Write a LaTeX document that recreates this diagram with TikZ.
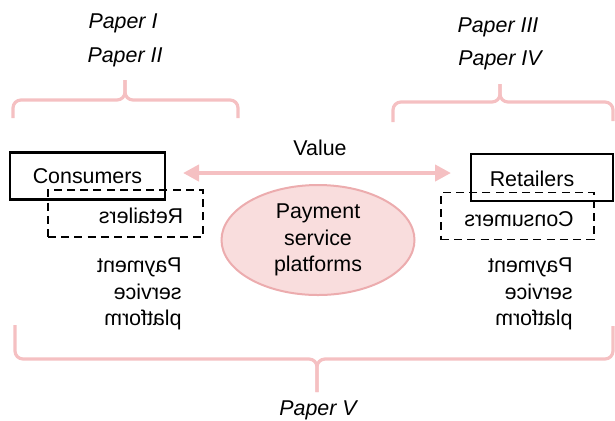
\documentclass[tikz,border=0pt]{standalone}
\usepackage{fontspec}
\setmainfont{Liberation Sans}
\usepackage{graphicx}
\usetikzlibrary{shapes.geometric,arrows.meta}
\definecolor{linkpink}{RGB}{245,192,194}
\definecolor{bubblefill}{RGB}{249,221,221}
\definecolor{bubbleline}{RGB}{236,172,174}
\begin{document}
\begin{tikzpicture}[x=0.5pt,y=-0.5pt,
  every node/.style={font=\fontsize{10.7}{13.2}\selectfont, inner sep=0pt},
  paper/.style={font=\fontsize{10.7}{13.2}\selectfont\itshape},
  actorbox/.style={draw=black, line width=1.2pt, minimum width=#1, minimum height=23.5pt},
  rolebox/.style={draw=black, line width=0.9pt, dash pattern=on 4pt off 2.6pt, minimum width=#1, minimum height=23.5pt},
  bracket/.style={draw=linkpink, line width=1.6pt, rounded corners=4pt},
  valueflow/.style={draw=linkpink, line width=2pt, {Triangle[length=8pt,width=8pt]}-{Triangle[length=8pt,width=8pt]}},
  platform/.style={ellipse, draw=bubbleline, fill=bubblefill, line width=1pt, minimum width=96.5pt, minimum height=55pt}
]
\useasboundingbox (0,0) rectangle (615,420);

% paper labels
\node[paper] (p1) at (123,23) {Paper I};
\node[paper] (p2) at (125,57) {Paper II};
\node[paper] (p3) at (498,27) {Paper III};
\node[paper] (p4) at (500,60) {Paper IV};
\node[paper] (p5) at (318,410) {Paper V};

% braces
\draw[bracket] (13,118) -- (13,100) -- (125,100) -- (125,80);
\draw[bracket] (125,80) -- (125,100) -- (238,100) -- (238,118);
\draw[bracket] (393,122) -- (393,102) -- (500,102) -- (500,84);
\draw[bracket] (500,84) -- (500,102) -- (613,102) -- (613,121);
\draw[bracket] (15,325) -- (15,359) -- (317,359) -- (317,392);
\draw[bracket] (317,392) -- (317,359) -- (613,359) -- (613,326);

% left side: consumers
\node[rolebox=77.5pt] (retdashL) at (125.5,213.5) {};
\node (retmirL) at (141,216) {\reflectbox{Retailers}};
\node[actorbox=77.5pt] (cons) at (87.5,176) {Consumers};
\node[anchor=east] (pspL) at (182,294) {\reflectbox{\begin{tabular}{@{}l@{}}Payment\\service\\platform\end{tabular}}};

% right side: retailers
\node[rolebox=76.5pt] (consdashR) at (517.5,216) {};
\node (consmirR) at (519,219) {\reflectbox{Consumers}};
\node[actorbox=71pt] (ret) at (542,177.5) {};
\node (rettext) at (532,179) {Retailers};
\node[anchor=east] (pspR) at (573,294) {\reflectbox{\begin{tabular}{@{}l@{}}Payment\\service\\platform\end{tabular}}};

% value exchange
\coordinate (vl) at (183,173);
\coordinate (vr) at (451,173);
\draw[valueflow] (vl) -- (vr);
\node (value) at (320,148) {Value};

% platform
\node[platform, align=center] (psp) at (318,240) {Payment\\service\\platforms};
\end{tikzpicture}
\end{document}
